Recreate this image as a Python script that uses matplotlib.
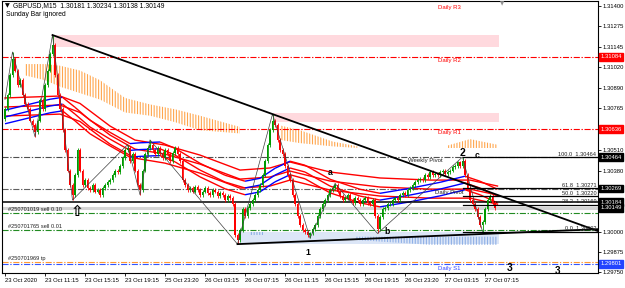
## GBPUSD M15 차트 재현
import numpy as np
import matplotlib
matplotlib.use("Agg")
import matplotlib.pyplot as plt
from matplotlib.transforms import blended_transform_factory

plt.rcParams['font.family'] = ['Liberation Sans', 'DejaVu Sans']
plt.rcParams['hatch.linewidth'] = 0.8

## 데이터
# 봉 종가 (M15, 197개)
closes = [
    1.3076, 1.3085, 1.3097, 1.3107,
    1.3100, 1.3091, 1.3094, 1.3085, 1.3079, 1.3076, 1.3069, 1.3066, 1.3062,
    1.3069, 1.3082, 1.3076, 1.3091, 1.3100, 1.3110, 1.3116,
    1.3097, 1.3085, 1.3076, 1.3063, 1.3051, 1.3038, 1.3029, 1.3023,
    1.3035, 1.3051, 1.3038, 1.3029, 1.3032, 1.3027, 1.3026,
    1.3029, 1.3025, 1.3026, 1.3023, 1.3027, 1.3029, 1.3031, 1.3032,
    1.3035, 1.3038, 1.3037, 1.3041, 1.3046, 1.3051, 1.3052,
    1.3044, 1.3048, 1.3038, 1.3029, 1.3026,
    1.3038, 1.3048, 1.3052, 1.3054,
    1.3051, 1.3048, 1.3052, 1.3049, 1.3046, 1.3051, 1.3048, 1.3044, 1.3049, 1.3052, 1.3048, 1.3044,
    1.3032, 1.3029, 1.3026, 1.3027, 1.3025, 1.3028, 1.3026, 1.3023, 1.3025, 1.3027, 1.3024,
    1.3023, 1.3026, 1.3025, 1.3022, 1.3024, 1.3023, 1.3020, 1.3022, 1.3021, 1.3017,
    1.2998, 1.2995, 1.3001, 1.3014, 1.3010, 1.3015, 1.3017,
    1.3020, 1.3023, 1.3026, 1.3029, 1.3035, 1.3044, 1.3054, 1.3063, 1.3069,
    1.3066, 1.3057, 1.3051, 1.3048, 1.3041, 1.3035, 1.3032, 1.3023, 1.3017, 1.3010,
    1.3004, 1.3001, 1.3000, 1.2998, 1.2999,
    1.3002, 1.3004, 1.3010, 1.3014, 1.3017, 1.3020, 1.3023, 1.3026, 1.3027, 1.3029,
    1.3025, 1.3022, 1.3020, 1.3021, 1.3023, 1.3020, 1.3018, 1.3021, 1.3020, 1.3017,
    1.3020, 1.3021, 1.3018, 1.3017, 1.3020, 1.3010,
    1.3002, 1.3009, 1.3014, 1.3015, 1.3017, 1.3017, 1.3020, 1.3021, 1.3020, 1.3023, 1.3024, 1.3023,
    1.3026, 1.3027, 1.3029, 1.3031, 1.3032, 1.3033, 1.3032, 1.3035, 1.3034, 1.3037, 1.3035, 1.3036,
    1.3035, 1.3037, 1.3038, 1.3036, 1.3037, 1.3038, 1.3040, 1.3041, 1.3043, 1.3041, 1.3044,
    1.3035, 1.3027, 1.3020, 1.3017, 1.3014, 1.3009, 1.3004, 1.3006, 1.3014, 1.3020, 1.3022, 1.3018, 1.30149,
]
first_open = 1.3070
wick = 0.00012
pivot_highs = {3: 1.31115, 19: 1.31220, 49: 1.30540, 58: 1.30570, 107: 1.30730, 132: 1.30300, 183: 1.30464}
pivot_lows = {12: 1.30590, 27: 1.30197, 54: 1.30230, 93: 1.29924, 122: 1.29961, 149: 1.29990, 191: 1.30002}

# 지그재그
zz_bars = [0, 3, 12, 19, 27, 49, 54, 58, 93, 107, 122, 132, 149, 183, 191]
zz_prices = [1.3082, 1.31115, 1.30590, 1.31220, 1.30197, 1.30540, 1.30230, 1.30570,
             1.29924, 1.30730, 1.29961, 1.30300, 1.29990, 1.30464, 1.30002]
wave_names = ['1', 'a', 'b', '2', 'c']
wave_bars = [121, 130, 153, 183, 189]
wave_prices = [1.29875, 1.30365, 1.30005, 1.30489, 1.30476]

# 추세선 (두 점)
tl_top = [(19, 1.31220), (107, 1.30730)]
tl_low = [(93, 1.29924), (191, 1.29987)]

# 느린 밴드 (빨강)
slow_bars = [0, 22, 30, 42, 52, 64, 78, 94, 106, 114, 130, 150, 170, 186, 197]
slow_mid = [1.30774, 1.30786, 1.30740, 1.30600, 1.30513, 1.30482, 1.30420, 1.30327,
            1.30340, 1.30377, 1.30315, 1.30278, 1.30265, 1.30265, 1.30228]
# 빠른 밴드 (상승 파랑 / 하락 빨강)
fast_bars = [0, 18, 23, 28, 34, 42, 50, 54, 62, 68, 78, 88, 96, 102, 108, 114, 120,
             130, 142, 150, 162, 174, 184, 190, 197]
fast_mid = [1.30712, 1.30780, 1.30792, 1.30730, 1.30650, 1.30575, 1.30505, 1.30510,
            1.30515, 1.30476, 1.30383, 1.30309, 1.30272, 1.30290, 1.30352, 1.30396,
            1.30371, 1.30284, 1.30222, 1.30197, 1.30228, 1.30265, 1.30303, 1.30272, 1.30222]

# 주황 히스토그램
orange_bars = [[8, 16, 22, 30, 38, 48, 58, 68, 78, 94], [110, 118, 131, 141], [177, 186, 197]]
orange_top = [[1.3104, 1.3104, 1.3103, 1.3100, 1.3094, 1.3083, 1.3079, 1.3076, 1.3072, 1.3065],
              [1.3066, 1.3063, 1.3056, 1.3053], [1.30535, 1.30575, 1.3054]]
orange_bot = [[1.3097, 1.3094, 1.3090, 1.3086, 1.3082, 1.3074, 1.3072, 1.3068, 1.3063, 1.3061],
              [1.3057, 1.3055, 1.3053, 1.3052], [1.3052, 1.3052, 1.3052]]
# 파랑 히스토그램
blue_bars = [[98, 103], [140, 170, 197]]
blue_top = [[1.3000, 1.3000], [1.2997, 1.2997, 1.2997]]
blue_bot = [[1.2998, 1.2998], [1.2995, 1.2992, 1.2992]]

# 구간 상자
zone_bars = [(19.2, 197.6), (107, 197.6), (94, 197.6)]
zone_prices = [(1.31146, 1.31220), (1.30681, 1.30737), (1.29924, 1.30000)]
zone_colors = ['#ffd9de', '#ffd9de', '#dce6f7']

# 피봇 라인
level_prices = [1.31084, 1.30636, 1.30464, 1.30265]
level_names = ['Daily R2', 'Daily R1', 'Weekly Pivot', 'Daily Pivot']
level_colors = ['#ff0000', '#ff0000', '#505050', '#606060']
level_text_bars = [173, 173, 161, 172]
s1_price = 1.29801
# 주문 라인
order_prices = [1.30116, 1.30011, 1.29815]
order_labels = ['#250701019 sell 0.10', '#250701765 sell 0.01', '#250701969 tp']
order_colors = ['#228b22', '#228b22', '#ff9933']
open_price = 1.30184
bid_price = 1.30149

# 피보나치
fib_start = 183
fib_levels = ['100.0', '61.8', '50.0', '38.2', '0.0', '161.8']
fib_prices = [1.30464, 1.30271, 1.30220, 1.30169, 1.30002, 1.29733]

# 축
time_ticks = [0, 16, 32, 48, 64, 80, 96, 112, 128, 144, 160, 176, 192]
time_labels = ['23 Oct 2020', '23 Oct 11:15', '23 Oct 15:15', '23 Oct 19:15', '25 Oct 23:20',
               '26 Oct 03:15', '26 Oct 07:15', '26 Oct 11:15', '26 Oct 15:15', '26 Oct 19:15',
               '26 Oct 23:20', '27 Oct 03:15', '27 Oct 07:15']
price_ticks = [1.31400, 1.31275, 1.31145, 1.31020, 1.30890, 1.30765, 1.30510, 1.30380,
               1.30000, 1.29875, 1.29750]
box_prices = [1.31084, 1.30636, 1.30464, 1.30269, 1.30184, 1.30149, 1.29801]
box_colors = ['#ff0000', '#ff0000', 'black', 'black', 'black', 'black', '#2244ff']

## 그리기
dashdot = (0, (5.5, 1.5, 1.2, 1.5))
fig = plt.figure(figsize=(6.25, 2.88), dpi=100)
ax = fig.add_axes([2 / 625, 15 / 288, 596 / 625, 272 / 288])
x0, x1 = -1.2, 237.2
ax.set_xlim(x0, x1)
ax.set_ylim(1.29745, 1.31431)

# 상자
for (b0, b1), (p0, p1), c in zip(zone_bars, zone_prices, zone_colors):
    ax.fill_between([b0, b1], p0, p1, color=c, lw=0, zorder=0)

# 히스토그램
for b, t, bt in zip(orange_bars, orange_top, orange_bot):
    ax.fill_between(b, t, bt, facecolor='none', edgecolor='#ffa64d', hatch='||||||', lw=0, zorder=1)
for b, t, bt in zip(blue_bars, blue_top, blue_bot):
    ax.fill_between(b, t, bt, facecolor='none', edgecolor='#8fb0e6', hatch='||||||', lw=0, zorder=1)

# 수평선
for p, c in zip(level_prices, level_colors):
    ax.axhline(p, color=c, lw=0.8, ls=dashdot, zorder=2)
for p, c in zip(order_prices, order_colors):
    ax.axhline(p, color=c, lw=0.8, ls=dashdot, zorder=2)
ax.axhline(s1_price, color='#3355ff', lw=0.8, ls=dashdot, zorder=2)
ax.axhline(bid_price, color='#d4d4d4', lw=2.2, zorder=2)
ax.axhline(open_price, color='black', lw=1.1, zorder=4)

# 밴드
half_slow, half_fast = 0.00056, 0.00042
sm = np.array(slow_mid)
for off in (-half_slow, 0, half_slow):
    ax.plot(slow_bars, sm + off, color='#ff0000', lw=1.0, zorder=3)
fm = np.array(fast_mid)
for k in range(len(fast_bars) - 1):
    c = '#0000ff' if fm[k + 1] > fm[k] else '#ff0000'
    for off in (-half_fast, 0, half_fast):
        ax.plot(fast_bars[k:k + 2], fm[k:k + 2] + off, color=c, lw=1.0, zorder=3,
                solid_capstyle='butt')

# 캔들
n = len(closes)
idx = np.arange(n)
cl = np.array(closes)
op = np.array([first_open] + closes[:-1])
hi = np.maximum(op, cl) + wick
lo = np.minimum(op, cl) - wick
for i, v in pivot_highs.items():
    hi[i] = v
for i, v in pivot_lows.items():
    lo[i] = v
col = np.where(cl >= op, '#009a00', '#ff0000')
ax.vlines(idx, lo, hi, colors=col, lw=0.6, zorder=5)
ax.bar(idx, np.maximum(np.abs(cl - op), 0.00004), bottom=np.minimum(op, cl),
       width=0.65, color=col, lw=0, zorder=5)

# 지그재그 & 추세선
ax.plot(zz_bars, zz_prices, color='#404040', lw=0.5, zorder=6)
for (b0, p0), (b1, p1) in (tl_top, tl_low):
    slope = (p1 - p0) / (b1 - b0)
    ax.plot([b0, x1], [p0, p0 + slope * (x1 - b0)], color='black', lw=1.3, zorder=6)

# 피보나치
for lv, p in zip(fib_levels, fib_prices):
    ax.plot([fib_start, x1], [p, p], color='black', lw=0.9, zorder=6)
    ax.annotate(f'{lv}  {p:.5f}', xy=(236.6, p), xytext=(0, 0.3), textcoords='offset points',
                ha='right', va='bottom', fontsize=4.1, color='#222222', zorder=7)

# 글자
for name, p, c, b in zip(level_names, level_prices, level_colors, level_text_bars):
    ax.annotate(name, xy=(b, p), xytext=(0, -0.8), textcoords='offset points',
                ha='left', va='top', fontsize=4.3, color=c if c == '#ff0000' else '#222222', zorder=7)
ax.annotate('Daily R3', xy=(173, 1), xycoords=('data', 'axes fraction'), xytext=(0, -3),
            textcoords='offset points', ha='left', va='top', fontsize=4.3, color='#ff0000')
ax.annotate('Daily S1', xy=(173, s1_price), xytext=(0, -1.2), textcoords='offset points',
            ha='left', va='top', fontsize=4.3, color='#3344ff')
for lab, p in zip(order_labels, order_prices):
    ax.annotate(lab, xy=(1.2, p), xytext=(0, 0.6), textcoords='offset points',
                ha='left', va='bottom', fontsize=4.1, color='#222222', zorder=7)
for name, b, p in zip(wave_names, wave_bars, wave_prices):
    fs = 7.5 if name == '2' else 6.2
    ax.text(b, p, name, ha='center', va='center', fontsize=fs, fontweight='bold', zorder=8)
ax.text(202, 1.29776, '3', ha='center', va='center', fontsize=7.5, fontweight='bold', zorder=8)
ax.text(220.8, 1.29757, '3', ha='center', va='center', fontsize=7, fontweight='bold', zorder=8)
ax.text(28.8, pivot_lows[27] - 0.00068, '\u21e7', ha='center', va='center', fontsize=11,
        family='DejaVu Sans', fontweight='bold', zorder=8)
ax.annotate('\u25bc', xy=(199, 1), xycoords=('data', 'axes fraction'), ha='center', va='top',
            fontsize=4, color='#909090', family='DejaVu Sans')

# 머리글
fig.text(5 / 625, 1 - 6 / 288, '\u25bc', fontsize=4.5, va='center', ha='left', family='DejaVu Sans')
fig.text(13 / 625, 1 - 6 / 288, 'GBPUSD,M15  1.30181 1.30234 1.30138 1.30149', fontsize=4.9,
         va='center', ha='left')
fig.text(6 / 625, 1 - 15 / 288, 'Sunday Bar ignored', fontsize=4.9, va='center', ha='left')

# 축 설정
for s in ax.spines.values():
    s.set_linewidth(0.8)
ax.yaxis.tick_right()
ax.set_yticks(price_ticks)
ax.set_yticklabels([f'{p:.5f}' for p in price_ticks], fontsize=4.2, ha='left')
ax.tick_params(axis='y', length=2, width=0.6, pad=1.5)
ax.set_xticks(time_ticks)
ax.set_xticklabels(time_labels, fontsize=4.2, ha='left')
ax.tick_params(axis='x', length=2, width=0.6, pad=1.5)
tr = blended_transform_factory(ax.transAxes, ax.transData)
for p, c in zip(box_prices, box_colors):
    ax.text(1.004, p, f'{p:.5f}', transform=tr, fontsize=4.2, color='white', ha='left',
            va='center', clip_on=False, zorder=10,
            bbox=dict(boxstyle='square,pad=0.25', fc=c, ec=c))

fig.savefig('out.png', dpi=100)
